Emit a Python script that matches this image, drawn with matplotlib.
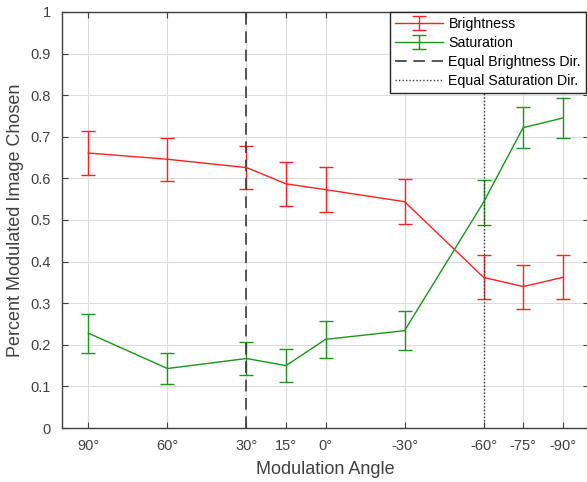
import numpy as np
from matplotlib import pyplot as plt

plt.rcParams['font.family'] = ['Liberation Sans', 'DejaVu Sans']

# data
angles = [90, 60, 30, 15, 0, -30, -60, -75, -90]
tick_labels = ['90°', '60°', '30°', '15°', '0°', '-30°', '-60°', '-75°', '-90°']

bright = [0.661, 0.646, 0.626, 0.587, 0.573, 0.544, 0.362, 0.340, 0.362]
bright_err = [0.052, 0.052, 0.052, 0.053, 0.054, 0.054, 0.053, 0.053, 0.053]

sat = [0.228, 0.143, 0.167, 0.150, 0.213, 0.234, 0.543, 0.722, 0.745]
sat_err = [0.047, 0.038, 0.040, 0.040, 0.045, 0.047, 0.054, 0.050, 0.048]

equal_bright = 30
equal_sat = -60

fig = plt.figure(figsize=(5.87, 4.82), dpi=100)
ax = fig.add_axes([62 / 587, 1 - 428 / 482, (589 - 62) / 587, (428 - 12) / 482])

axc = '#404040'
h1 = ax.errorbar(angles, bright, yerr=bright_err, color='#ff2020', lw=1.0,
                 capsize=5, capthick=1.0, elinewidth=1.0, label='Brightness')
h2 = ax.errorbar(angles, sat, yerr=sat_err, color='#1a961a', lw=1.0,
                 capsize=5, capthick=1.0, elinewidth=1.0, label='Saturation')
h3 = ax.axvline(equal_bright, color='#3a3a3a', ls=(0, (7, 4)), lw=1.2,
                label='Equal Brightness Dir.')
h4 = ax.axvline(equal_sat, color='#3a3a3a', ls=(0, (1, 1.5)), lw=1.0,
                label='Equal Saturation Dir.')

ax.set_xlim(100, -100)
ax.set_ylim(0, 1)
ax.set_xticks(angles)
ax.set_xticklabels(tick_labels)
ax.set_yticks(np.arange(0, 1.01, 0.1))
ax.set_yticklabels(['0', '0.1', '0.2', '0.3', '0.4', '0.5', '0.6', '0.7', '0.8', '0.9', '1'])
ax.grid(True, color='#dcdcdc', lw=0.8)
ax.set_axisbelow(True)
ax.tick_params(direction='in', top=True, right=True, length=4, color=axc,
               labelcolor=axc, labelsize=10.5, pad=8)
for s in ax.spines.values():
    s.set_color(axc)
    s.set_linewidth(1.0)

ax.set_xlabel('Modulation Angle', fontsize=13, color=axc, labelpad=6)
ax.set_ylabel('Percent Modulated Image Chosen', fontsize=13, color=axc, labelpad=5)

leg = ax.legend([h1, h2, h3, h4],
                ['Brightness', 'Saturation', 'Equal Brightness Dir.', 'Equal Saturation Dir.'],
                loc='upper right', bbox_to_anchor=(586 / 587, 1 - 12 / 482),
                bbox_transform=fig.transFigure, borderaxespad=0, fontsize=10.2,
                fancybox=False, framealpha=1, edgecolor='#262626',
                handlelength=3.4, handletextpad=0.4, labelspacing=0.36,
                borderpad=0.35)
leg.get_frame().set_linewidth(1.0)

fig.savefig('out.png', dpi=100)
